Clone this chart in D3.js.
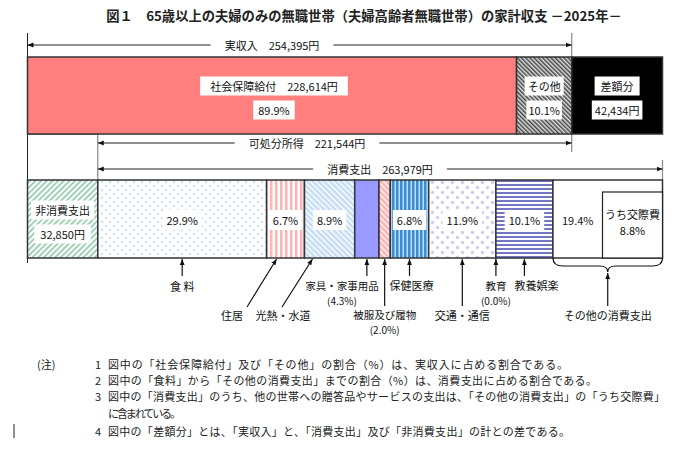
<!DOCTYPE html>
<html><head><meta charset="utf-8">
<script src="https://cdn.jsdelivr.net/npm/d3@7"></script>
<style>
body{margin:0;background:#fff;}
svg{display:block;font-family:"Noto Sans CJK JP","Noto Sans",sans-serif;}
</style></head>
<body>
<script>
// ---- data ----
const titleText = "図１　65歳以上の夫婦のみの無職世帯（夫婦高齢者無職世帯）の家計収支 －2025年－";
const incomeCats = ["社会保障給付", "その他"];
const incomeVals = [228614, 25781];
const incomePct = [89.9, 10.1];
const actualIncome = 254395;
const surplus = 42434;
const disposableIncome = 221544;
const consumption = 263979;
const nonConsumption = 32850;
const expCats = ["食料","住居","光熱・水道","家具・家事用品","被服及び履物","保健医療","交通・通信","教育","教養娯楽","その他の消費支出"];
const expPct = [29.9, 6.7, 8.9, 4.3, 2.0, 6.8, 11.9, 0.0, 10.1, 19.4];
const socialPct = 8.8;
const noteNums = ["1", "2", "3", "", "4"];
const noteTexts = [
  "図中の「社会保障給付」及び「その他」の割合（%）は、実収入に占める割合である。",
  "図中の「食料」から「その他の消費支出」までの割合（%）は、消費支出に占める割合である。",
  "図中の「消費支出」のうち、他の世帯への贈答品やサービスの支出は、「その他の消費支出」の「うち交際費」",
  "に含まれている。",
  "図中の「差額分」とは、「実収入」と、「消費支出」及び「非消費支出」の計との差である。"
];

const W = 678, H = 476;
const svg = d3.select("body").append("svg").attr("width", W).attr("height", H);
const defs = svg.append("defs");

// patterns
function stripes(id, size, bg, fg, lw, rot) {
  const p = defs.append("pattern").attr("id", id).attr("patternUnits", "userSpaceOnUse")
    .attr("width", size).attr("height", size);
  if (rot) p.attr("patternTransform", `rotate(${rot})`);
  p.append("rect").attr("width", size).attr("height", size).attr("fill", bg);
  p.append("rect").attr("width", lw).attr("height", size).attr("fill", fg);
}
function hstripes(id, size, bg, fg, lw) {
  const p = defs.append("pattern").attr("id", id).attr("patternUnits", "userSpaceOnUse")
    .attr("width", size).attr("height", size);
  p.append("rect").attr("width", size).attr("height", size).attr("fill", bg);
  p.append("rect").attr("width", size).attr("height", lw).attr("fill", fg);
}
function dots(id, size, fg, r) {
  const p = defs.append("pattern").attr("id", id).attr("patternUnits", "userSpaceOnUse")
    .attr("width", size).attr("height", size);
  p.append("rect").attr("width", size).attr("height", size).attr("fill", "#fff");
  p.append("circle").attr("cx", size / 4).attr("cy", size / 4).attr("r", r).attr("fill", fg);
  p.append("circle").attr("cx", size * 3 / 4).attr("cy", size * 3 / 4).attr("r", r).attr("fill", fg);
}
stripes("pOther", 3, "#e0e0e0", "#444", 1.5, -45);
stripes("pNon", 4, "#ffffff", "#9fd2b6", 2, 45);
dots("pFood", 8, "#c9e0f6", 1.2);
stripes("pHouse", 5, "#ffffff", "#ffb3b3", 2.5, 0);
stripes("pFuel", 4, "#eef5fc", "#c3dcf2", 2, -45);
stripes("pCloth", 4, "#ffe6e6", "#ffb0b0", 2, -45);
stripes("pHealth", 4, "#bfe0f7", "#3a8cd3", 2.5, 0);
dots("pTrans", 10, "#cdcdf3", 1.7);
hstripes("pCult", 4, "#ffffff", "#7676c6", 2);

const expFills = ["url(#pFood)","url(#pHouse)","url(#pFuel)","#9999ff","url(#pCloth)","url(#pHealth)","url(#pTrans)","#ffffff","url(#pCult)","#ffffff"];

// arrow marker
defs.append("marker").attr("id", "ah").attr("viewBox", "0 0 10 10")
  .attr("refX", 10).attr("refY", 5).attr("markerWidth", 6).attr("markerHeight", 6)
  .attr("markerUnits", "userSpaceOnUse").attr("orient", "auto-start-reverse")
  .append("path").attr("d", "M0,1 L10,5 L0,9 Z").attr("fill", "#111");

const x = d3.scaleLinear().domain([0, actualIncome + surplus]).range([27.5, 662.5]);
const stroke = "#333";

// title
svg.append("text").attr("x", 364).attr("y", 21).attr("text-anchor", "middle")
  .attr("font-size", 13.3).attr("font-weight", 600).attr("fill", "#222").text(titleText);

const fs = 11;
function labelBox(cx, cy, txt, box = true, padX = 5, padY = 3, size = fs) {
  const g = svg.append("g");
  const t = g.append("text").attr("x", cx).attr("y", cy).attr("text-anchor", "middle")
    .attr("dominant-baseline", "central").attr("font-size", size).attr("fill", "#111").text(txt);
  if (box) {
    const b = t.node().getBBox();
    g.insert("rect", "text").attr("x", b.x - padX).attr("y", cy - 8 - padY / 2)
      .attr("width", b.width + padX * 2).attr("height", 16 + padY).attr("fill", "#fff");
  }
  return t;
}
function arrowLine(x1, x2, y, label, lx) {
  const t = svg.append("text").attr("x", lx).attr("y", y).attr("text-anchor", "middle")
    .attr("dominant-baseline", "central").attr("font-size", fs).attr("fill", "#111").text(label);
  const b = t.node().getBBox();
  svg.append("line").attr("x1", b.x - 14).attr("x2", x1).attr("y1", y).attr("y2", y)
    .attr("stroke", "#222").attr("stroke-width", 1).attr("marker-end", "url(#ah)");
  svg.append("line").attr("x1", b.x + b.width + 14).attr("x2", x2).attr("y1", y).attr("y2", y)
    .attr("stroke", "#222").attr("stroke-width", 1).attr("marker-end", "url(#ah)");
}

// frame lines
const yTop0 = 57, yTop1 = 134, yB0 = 180, yB1 = 258;
svg.append("line").attr("x1", x(0)).attr("x2", x(0)).attr("y1", 33).attr("y2", 263).attr("stroke", "#222").attr("stroke-width", 1);
svg.append("line").attr("x1", x(actualIncome)).attr("x2", x(actualIncome)).attr("y1", 33).attr("y2", 152).attr("stroke", "#888").attr("stroke-width", 1.2);
svg.append("line").attr("x1", x(nonConsumption)).attr("x2", x(nonConsumption)).attr("y1", yTop1).attr("y2", yB0).attr("stroke", "#888").attr("stroke-width", 1.2);
svg.append("line").attr("x1", x(actualIncome + surplus)).attr("x2", x(actualIncome + surplus)).attr("y1", 160).attr("y2", yB0).attr("stroke", "#888").attr("stroke-width", 1.2);
svg.append("line").attr("x1", x(0)).attr("x2", x(nonConsumption)).attr("y1", yTop1).attr("y2", yTop1).attr("stroke", stroke);

// top bar
const topSegs = [
  {v0: 0, v1: incomeVals[0], fill: "#ff7f7f"},
  {v0: incomeVals[0], v1: actualIncome, fill: "url(#pOther)"},
  {v0: actualIncome, v1: actualIncome + surplus, fill: "#000"}
];
svg.selectAll(".top").data(topSegs).join("rect")
  .attr("x", d => x(d.v0)).attr("width", d => x(d.v1) - x(d.v0))
  .attr("y", yTop0).attr("height", yTop1 - yTop0)
  .attr("fill", d => d.fill).attr("stroke", stroke).attr("stroke-width", 1.5);

arrowLine(x(0), x(actualIncome), 45, "実収入　" + d3.format(",")(actualIncome) + "円", 272);
arrowLine(x(nonConsumption), x(actualIncome), 143, "可処分所得　" + d3.format(",")(disposableIncome) + "円", 307);
arrowLine(x(nonConsumption), x(actualIncome + surplus), 169, "消費支出　" + d3.format(",")(consumption) + "円", 380);

labelBox(274, 86, incomeCats[0] + "　" + d3.format(",")(incomeVals[0]) + "円", true, 10);
labelBox(274, 110, incomePct[0].toFixed(1) + "%");
const oc = (x(incomeVals[0]) + x(actualIncome)) / 2;
labelBox(oc, 86, incomeCats[1], true, 3);
labelBox(oc, 110, incomePct[1].toFixed(1) + "%", true, 2);
const sc = (x(actualIncome) + x(actualIncome + surplus)) / 2;
labelBox(sc, 86, "差額分", true, 6);
labelBox(sc, 110, d3.format(",")(surplus) + "円", true, 3);

// bottom bar
let cum = nonConsumption;
const expSegs = expPct.map((p, i) => {
  const v = consumption * p / 100;
  const s = {cat: expCats[i], pct: p, v0: cum, v1: cum + v, fill: expFills[i]};
  cum += v;
  return s;
});
svg.append("rect").attr("x", x(0)).attr("width", x(nonConsumption) - x(0))
  .attr("y", yB0).attr("height", yB1 - yB0).attr("fill", "url(#pNon)")
  .attr("stroke", stroke).attr("stroke-width", 1.5);
svg.selectAll(".exp").data(expSegs).join("rect")
  .attr("x", d => x(d.v0)).attr("width", d => x(d.v1) - x(d.v0))
  .attr("y", yB0).attr("height", yB1 - yB0)
  .attr("fill", d => d.fill).attr("stroke", stroke).attr("stroke-width", 1.5);

const nc = (x(0) + x(nonConsumption)) / 2;
labelBox(nc, 210, "非消費支出", true, 4);
labelBox(nc, 234, d3.format(",")(nonConsumption) + "円", true, 6);

const last = expSegs[expSegs.length - 1];
// "うち交際費" box: proportional width, widened if needed to hold its label
const tmp = svg.append("text").attr("font-size", fs).text("うち交際費");
const needW = tmp.node().getComputedTextLength() + 5;
tmp.remove();
const boxW = Math.max(x(last.v1) - x(last.v1 - consumption * socialPct / 100), needW);
const boxX = x(last.v1) - boxW;
svg.append("rect").attr("x", boxX).attr("y", 192).attr("width", boxW).attr("height", yB1 - 192)
  .attr("fill", "#fff").attr("stroke", "#222").attr("stroke-width", 1.2);
const bc = (boxX + x(last.v1)) / 2;
labelBox(bc, 214, "うち交際費", false);
labelBox(bc, 230, socialPct.toFixed(1) + "%", false);

expSegs.forEach((d, i) => {
  if ([0,1,2,5,6,8].includes(i)) {
    labelBox((x(d.v0) + x(d.v1)) / 2, 220, d.pct.toFixed(1) + "%", true, 4, 4);
  }
});
labelBox((x(last.v0) + boxX) / 2, 220, last.pct.toFixed(1) + "%", false);

// annotation arrows below
const mid = d => (x(d.v0) + x(d.v1)) / 2;
function arr(x1, y1, x2, y2) {
  svg.append("line").attr("x1", x1).attr("y1", y1).attr("x2", x2).attr("y2", y2)
    .attr("stroke", "#111").attr("stroke-width", 1.2).attr("marker-end", "url(#ah)");
}
function txt(cx, cy, s, size = fs) {
  svg.append("text").attr("x", cx).attr("y", cy).attr("text-anchor", "middle")
    .attr("dominant-baseline", "central").attr("font-size", size).attr("fill", "#111").text(s);
}
const E = expSegs;
const pctTxt = p => "(" + p.toFixed(1) + "%)";
// 食料
arr(mid(E[0]), 276, mid(E[0]), yB1 + 1); txt(mid(E[0]), 286, "食 料");
// 住居
arr(247, 307, x(E[1].v0) + 10, yB1 + 1); txt(232, 315, E[1].cat);
// 光熱・水道
arr(282, 307, x(E[2].v0) + 8, yB1 + 1); txt(283, 315, E[2].cat);
// 家具・家事用品
arr(mid(E[3]), 276, mid(E[3]), yB1 + 1); txt(342, 285, E[3].cat, 10.5); txt(342, 300, pctTxt(E[3].pct), 10);
// 被服及び履物
arr(mid(E[4]), 306, mid(E[4]), yB1 + 1); txt(mid(E[4]), 314, E[4].cat, 10.5); txt(mid(E[4]), 329, pctTxt(E[4].pct), 10);
// 保健医療
arr(mid(E[5]), 276, mid(E[5]), yB1 + 1); txt(mid(E[5]) + 2, 285, E[5].cat);
// 交通・通信
arr(mid(E[6]), 306, mid(E[6]), yB1 + 1); txt(mid(E[6]), 315, E[6].cat);
// 教育
arr(x(E[7].v0), 276, x(E[7].v0), yB1 + 1); txt(x(E[7].v0), 285, E[7].cat, 10.5); txt(x(E[7].v0), 300, pctTxt(E[7].pct), 10);
// 教養娯楽
arr(mid(E[8]), 276, mid(E[8]), yB1 + 1); txt(mid(E[8]) + 12, 285, E[8].cat);
// その他の消費支出: brace
const bx0 = x(last.v0), bx1 = x(last.v1), bm = (bx0 + bx1) / 2;
svg.append("path").attr("fill", "none").attr("stroke", "#111").attr("stroke-width", 1.2)
  .attr("d", `M${bx0},${yB1} Q${bx0},${yB1 + 8} ${bx0 + 10},${yB1 + 8} L${bm - 8},${yB1 + 8} Q${bm},${yB1 + 8} ${bm},${yB1 + 14} Q${bm},${yB1 + 8} ${bm + 8},${yB1 + 8} L${bx1 - 10},${yB1 + 8} Q${bx1},${yB1 + 8} ${bx1},${yB1}`);
arr(bm, 306, bm, yB1 + 15); txt(bm, 315, last.cat);

// notes
const ny = [364, 380, 396, 413, 431];
const noteEnds = [568, 597, 665, 181, 570];
svg.append("text").attr("x", 37).attr("y", ny[0]).attr("dominant-baseline", "central")
  .attr("font-size", 11).attr("fill", "#222").text("(注)");
noteTexts.forEach((t, i) => {
  if (noteNums[i]) svg.append("text").attr("x", 98).attr("y", ny[i]).attr("text-anchor", "middle")
    .attr("dominant-baseline", "central").attr("font-size", 11).attr("fill", "#222").text(noteNums[i]);
  svg.append("text").attr("x", 108).attr("y", ny[i]).attr("dominant-baseline", "central")
    .attr("font-size", 11).attr("fill", "#222")
    .attr("textLength", noteEnds[i] - 108).attr("lengthAdjust", "spacing").text(t);
});
svg.append("line").attr("x1", 14).attr("x2", 14).attr("y1", 424).attr("y2", 438).attr("stroke", "#222").attr("stroke-width", 1);
</script>
</body></html>
